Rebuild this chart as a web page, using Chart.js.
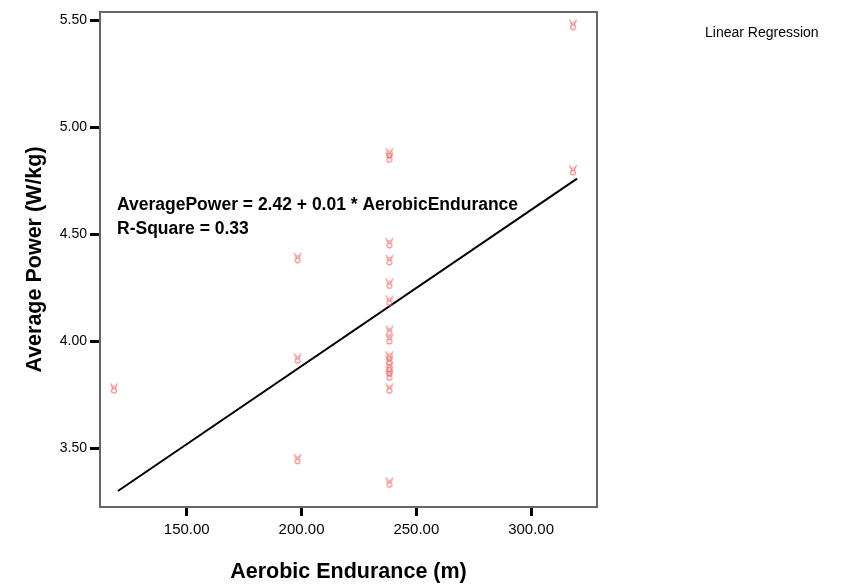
<!DOCTYPE html>
<html>
<head>
<meta charset="utf-8">
<script src="https://cdn.jsdelivr.net/npm/chart.js@4.4.0/dist/chart.umd.min.js"></script>
<style>
html, body { margin: 0; padding: 0; background: #fff; }
</style>
</head>
<body>
<canvas id="grafica" width="852" height="588"></canvas>
<script>
// valores
var resistencia = [120, 200, 200, 200, 240, 240, 240, 240, 240, 240, 240, 240, 240, 240, 240, 240, 240, 240, 240, 320, 320];
var potencia = [3.78, 4.39, 3.92, 3.45, 4.88, 4.86, 4.46, 4.38, 4.27, 4.19, 4.05, 4.01, 3.93, 3.91, 3.88, 3.86, 3.84, 3.78, 3.34, 5.48, 4.80];

// recta de regresion
var rectaX = [120, 320];
var rectaY = [3.30, 4.76];

var ticksX = [150, 200, 250, 300];
var ticksY = [3.5, 4.0, 4.5, 5.0, 5.5];

var fuente = "'Liberation Sans', Arial, sans-serif";

// el simbolo de SPSS queda un poco a la izquierda del valor
function crearMarcador(){
    var c = document.createElement('canvas');
    c.width = 18;
    c.height = 12;
    var g = c.getContext('2d');
    g.strokeStyle = 'rgba(238, 110, 110, 0.85)';
    g.lineWidth = 1.1;
    g.beginPath();
    g.arc(5, 8.5, 2.4, 0, Math.PI * 2);
    g.stroke();
    g.beginPath();
    g.moveTo(4, 6.5); g.lineTo(1.5, 1);
    g.moveTo(6, 6.5); g.lineTo(8.5, 1);
    g.moveTo(3, 4); g.lineTo(7, 4);
    g.stroke();
    return c;
}

var marco = {
    id: 'marco',
    beforeDatasetsDraw: function(chart){
        var a = chart.chartArea;
        var ctx = chart.ctx;
        ctx.save();
        ctx.strokeStyle = '#666666';
        ctx.lineWidth = 2;
        ctx.strokeRect(a.left, a.top, a.right - a.left, a.bottom - a.top);
        ctx.restore();
    },
    afterDraw: function(chart){
        var ctx = chart.ctx;
        ctx.save();
        ctx.fillStyle = '#000';
        ctx.textBaseline = 'alphabetic';
        ctx.font = 'bold 17.5px ' + fuente;
        ctx.fillText('AveragePower = 2.42 + 0.01 * AerobicEndurance', 117, 210);
        ctx.fillText('R-Square = 0.33', 117, 234);
        ctx.font = '14px ' + fuente;
        ctx.fillText('Linear Regression', 705, 37);
        ctx.restore();
    }
};

var puntos = resistencia.map(function(x, i){ return {x: x, y: potencia[i]}; });
var linea = rectaX.map(function(x, i){ return {x: x, y: rectaY[i]}; });

new Chart(document.getElementById('grafica'), {
    type: 'scatter',
    data: {
        datasets: [{
            data: puntos,
            pointStyle: crearMarcador(),
            pointRadius: 5,
            pointHoverRadius: 5
        }, {
            type: 'line',
            data: linea,
            borderColor: '#000',
            borderWidth: 2,
            pointRadius: 0,
            fill: false
        }]
    },
    options: {
        responsive: false,
        animation: false,
        devicePixelRatio: 1,
        layout: { padding: { top: 12, right: 255, left: 0, bottom: 0 } },
        plugins: {
            legend: { display: false },
            tooltip: { enabled: false }
        },
        scales: {
            x: {
                type: 'linear',
                min: 112.2,
                max: 328.7,
                afterBuildTicks: function(s){ s.ticks = ticksX.map(function(v){ return {value: v}; }); },
                afterFit: function(s){ s.height = 81; },
                border: { display: false },
                grid: { drawOnChartArea: false, tickLength: 9, tickWidth: 3, tickColor: '#000' },
                ticks: {
                    color: '#000',
                    padding: 5,
                    maxRotation: 0,
                    font: { family: fuente, size: 15 },
                    callback: function(v){ return Number(v).toFixed(2); }
                },
                title: {
                    display: true,
                    text: 'Aerobic Endurance (m)',
                    color: '#000',
                    font: { family: fuente, size: 21.5, weight: 'bold' },
                    padding: { top: 0, bottom: 3 }
                }
            },
            y: {
                type: 'linear',
                min: 3.225,
                max: 5.539,
                afterBuildTicks: function(s){ s.ticks = ticksY.map(function(v){ return {value: v}; }); },
                afterFit: function(s){ s.width = 100; },
                border: { display: false },
                grid: { drawOnChartArea: false, tickLength: 10, tickWidth: 3, tickColor: '#000' },
                ticks: {
                    color: '#000',
                    padding: 3,
                    font: { family: fuente, size: 14 },
                    callback: function(v){ return Number(v).toFixed(2); }
                },
                title: {
                    display: true,
                    text: 'Average Power (W/kg)',
                    color: '#000',
                    font: { family: fuente, size: 21.5, weight: 'bold' },
                    padding: { top: 22, bottom: 0 }
                }
            }
        }
    },
    plugins: [marco]
});
</script>
</body>
</html>
